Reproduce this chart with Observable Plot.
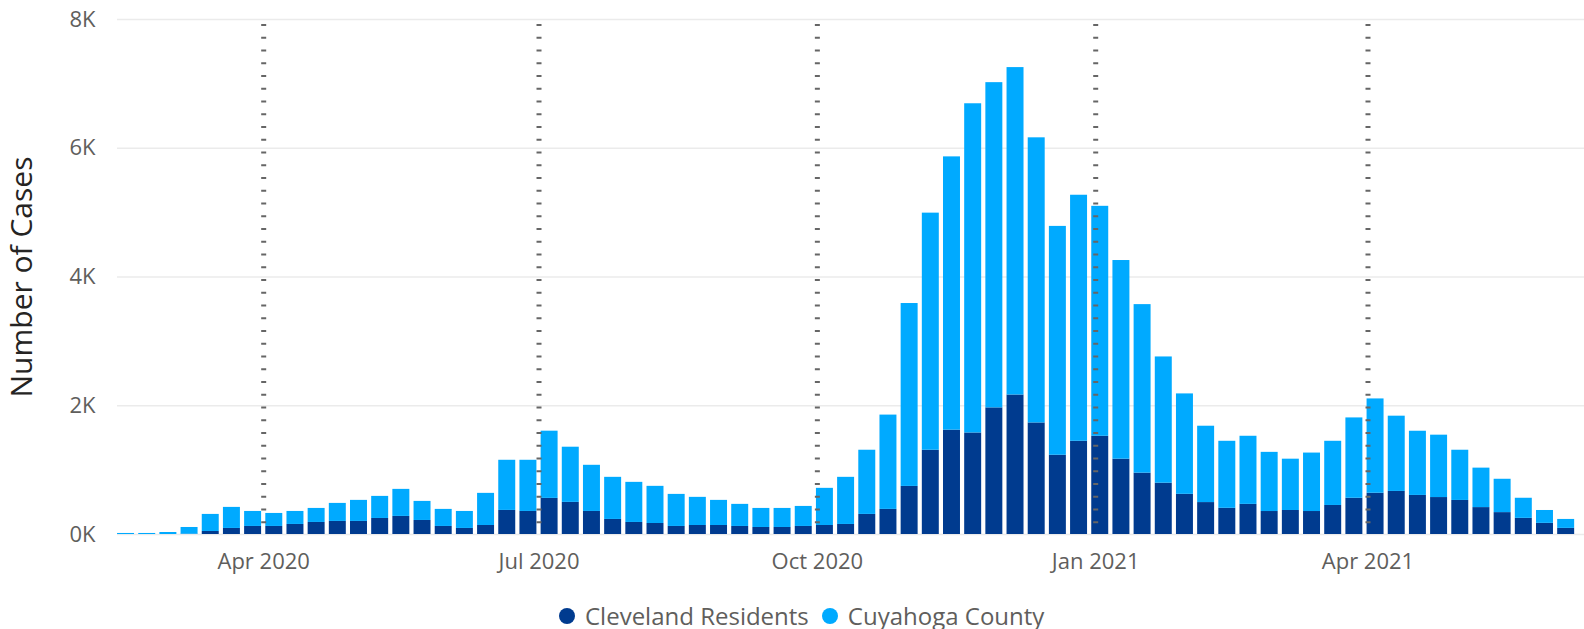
<!DOCTYPE html>
<html>
<head>
<meta charset="utf-8">
<script src="https://cdn.jsdelivr.net/npm/d3@7"></script>
<script src="https://cdn.jsdelivr.net/npm/@observablehq/plot@0.6"></script>
<style>
  html, body { margin: 0; padding: 0; background: #ffffff; }
  body { width: 1584px; height: 629px; overflow: hidden; font-family: "Open Sans", sans-serif; }
  #chart svg { display: block; }
  .legend { height: 39px; box-sizing: border-box; padding-top: 13px; padding-left: 559px;
            display: flex; align-items: center; font-family: "Open Sans", sans-serif;
            font-size: 24px; line-height: 26px; color: #605E5C; white-space: nowrap; }
  .legend .dot { width: 16px; height: 16px; border-radius: 50%; flex: none; margin-right: 10px; }
  .legend .item { display: flex; align-items: center; margin-right: 13px; height: 26px; }
  .legend .label { display: block; line-height: 26px; }
</style>
</head>
<body>
<div id="chart"></div>
<div class="legend" id="legend"></div>
<script>
// Week (bar) dates
const weeks = [
  "2020-02-15","2020-02-22","2020-02-29","2020-03-07","2020-03-14","2020-03-21","2020-03-28",
  "2020-04-04","2020-04-11","2020-04-18","2020-04-25","2020-05-02","2020-05-09","2020-05-16",
  "2020-05-23","2020-05-30","2020-06-06","2020-06-13","2020-06-20","2020-06-27","2020-07-04",
  "2020-07-11","2020-07-18","2020-07-25","2020-08-01","2020-08-08","2020-08-15","2020-08-22",
  "2020-08-29","2020-09-05","2020-09-12","2020-09-19","2020-09-26","2020-10-03","2020-10-10",
  "2020-10-17","2020-10-24","2020-10-31","2020-11-07","2020-11-14","2020-11-21","2020-11-28",
  "2020-12-05","2020-12-12","2020-12-19","2020-12-26","2021-01-02","2021-01-09","2021-01-16",
  "2021-01-23","2021-01-30","2021-02-06","2021-02-13","2021-02-20","2021-02-27","2021-03-06",
  "2021-03-13","2021-03-20","2021-03-27","2021-04-03","2021-04-10","2021-04-17","2021-04-24",
  "2021-05-01","2021-05-08","2021-05-15","2021-05-22","2021-05-29","2021-06-05"
];
// Series values (weekly case counts), stacked: Cleveland at the bottom
const cleveland = [
  0,0,0,4,47,94,125,125,156,187,
  203,203,249,281,218,125,94,140,374,358,
  561,499,358,234,187,171,125,140,140,125,
  109,109,125,140,156,312,390,747,1309,1621,
  1577,1967,2167,1733,1231,1448,1526,1170,953,797,
  624,496,407,468,357,373,357,451,563,641,
  669,607,574,529,418,340,251,173,95
];
const cuyahoga = [
  16,16,31,105,265,327,233,202,202,218,
  280,327,343,420,296,265,264,499,779,795,
  1044,857,717,654,623,577,498,437,390,343,
  296,296,311,577,732,997,1465,2841,3683,4245,
  5114,5052,5086,4429,3555,3822,3572,3086,2618,1961,
  1560,1186,1041,1058,919,797,908,997,1248,1465,
  1169,997,969,780,613,518,312,200,139
];
const seriesNames = ["Cleveland Residents", "Cuyahoga County"];
const seriesColors = ["#003B8F", "#00AAFF"];
const xTickDates = ["2020-04-01","2020-07-01","2020-10-01","2021-01-01","2021-04-01"];
const xTickLabels = ["Apr 2020","Jul 2020","Oct 2020","Jan 2021","Apr 2021"];
const yTicks = [0, 2000, 4000, 6000, 8000];
const yTickLabels = ["0K","2K","4K","6K","8K"];
const yTitle = "Number of Cases";

const parse = s => new Date(s + "T00:00:00Z");
const rows = weeks.flatMap((w, i) => {
  const d = parse(w);
  return [
    {date: d, series: seriesNames[0], lo: 0, hi: cleveland[i]},
    {date: d, series: seriesNames[1], lo: cleveland[i], hi: cleveland[i] + cuyahoga[i]}
  ];
});
const tickDates = xTickDates.map(parse);
const xLabel = d => xTickLabels[tickDates.findIndex(t => +t === +d)];
const yLabel = v => yTickLabels[yTicks.indexOf(v)];

const chart = Plot.plot({
  width: 1584,
  height: 590,
  marginTop: 19,
  marginBottom: 56,
  marginLeft: 117,
  marginRight: 0,
  style: {fontFamily: "Open Sans, sans-serif", color: "#605E5C", background: "#ffffff"},
  x: {type: "utc", domain: [new Date("2020-02-12T16:19:00Z"), new Date("2021-06-11T13:26:00Z")]},
  y: {domain: [0, 8000]},
  color: {domain: seriesNames, range: seriesColors},
  marks: [
    Plot.gridY(yTicks, {stroke: "#EBEBEB", strokeOpacity: 1, strokeWidth: 1.5}),
    Plot.rect(rows, {
      x1: d => d3.utcDay.offset(d.date, -3),
      x2: d => d3.utcDay.offset(d.date, 4),
      y1: "lo", y2: "hi", fill: "series",
      insetLeft: 2.1, insetRight: 2.1
    }),
    Plot.ruleX(tickDates, {stroke: "#666666", strokeWidth: 5, strokeDasharray: "2,10.75", strokeDashoffset: 7.75}),
    Plot.axisY(yTicks, {tickSize: 0, tickPadding: 22, fontSize: 22, tickFormat: yLabel, label: null, color: "#605E5C"}),
    Plot.axisX(tickDates, {tickSize: 0, tickPadding: 19, fontSize: 22, tickFormat: xLabel, label: null, color: "#605E5C"}),
    Plot.text([yTitle], {frameAnchor: "left", text: d => d, rotate: -90, dx: -95,
      textAnchor: "middle", fontSize: 30, fill: "#252423"})
  ]
});
document.getElementById("chart").appendChild(chart);

const legend = document.getElementById("legend");
seriesNames.forEach((name, i) => {
  const item = document.createElement("div");
  item.className = "item";
  const dot = document.createElement("span");
  dot.className = "dot";
  dot.style.background = seriesColors[i];
  const label = document.createElement("span");
  label.className = "label";
  label.textContent = name;
  item.appendChild(dot);
  item.appendChild(label);
  legend.appendChild(item);
});
</script>
</body>
</html>
